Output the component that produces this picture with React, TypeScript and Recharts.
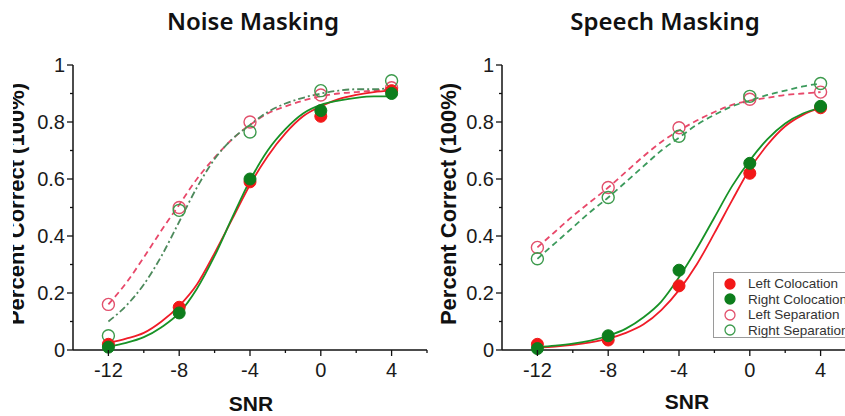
import React from 'react';
import { ComposedChart, Line, Scatter, XAxis, YAxis } from 'recharts';

// ---------- data ----------
const snrPoints = [-12, -8, -4, 0, 4];
const curveX = [-12, -11, -10, -9, -8, -7, -6, -5, -4, -3, -2, -1, 0, 1, 2, 3, 4];
const xTicks = [-12, -10, -8, -6, -4, -2, 0, 2, 4, 6];
const yTicks = [0, 0.1, 0.2, 0.3, 0.4, 0.5, 0.6, 0.7, 0.8, 0.9, 1];
const xLabelTicks = [-12, -8, -4, 0, 4];

const seriesNames = ['Left Colocation', 'Right Colocation', 'Left Separation', 'Right Separation'];

// Noise masking – measured points
const noiseLeftColoc = [0.02, 0.15, 0.59, 0.82, 0.91];
const noiseRightColoc = [0.01, 0.13, 0.6, 0.84, 0.9];
const noiseLeftSep = [0.16, 0.5, 0.8, 0.895, 0.92];
const noiseRightSep = [0.05, 0.49, 0.765, 0.91, 0.945];
// Noise masking – fitted curves
const noiseLeftColocFit = [0.025, 0.04, 0.06, 0.1, 0.155, 0.23, 0.34, 0.46, 0.58, 0.68, 0.76, 0.82, 0.855, 0.88, 0.895, 0.905, 0.91];
const noiseRightColocFit = [0.012, 0.025, 0.045, 0.08, 0.13, 0.215, 0.33, 0.465, 0.595, 0.7, 0.775, 0.83, 0.86, 0.875, 0.885, 0.89, 0.89];
const noiseLeftSepFit = [0.16, 0.235, 0.325, 0.42, 0.51, 0.6, 0.675, 0.74, 0.79, 0.83, 0.855, 0.875, 0.89, 0.9, 0.905, 0.91, 0.915];
const noiseRightSepFit = [0.1, 0.155, 0.23, 0.33, 0.45, 0.57, 0.67, 0.74, 0.79, 0.835, 0.865, 0.885, 0.9, 0.91, 0.915, 0.915, 0.92];

// Speech masking – measured points
const speechLeftColoc = [0.02, 0.035, 0.225, 0.62, 0.85];
const speechRightColoc = [0.005, 0.05, 0.28, 0.655, 0.855];
const speechLeftSep = [0.36, 0.57, 0.78, 0.88, 0.905];
const speechRightSep = [0.32, 0.535, 0.75, 0.89, 0.935];
// Speech masking – fitted curves
const speechLeftColocFit = [0.008, 0.012, 0.018, 0.027, 0.04, 0.06, 0.09, 0.14, 0.21, 0.3, 0.41, 0.525, 0.635, 0.72, 0.785, 0.825, 0.85];
const speechRightColocFit = [0.01, 0.015, 0.022, 0.033, 0.05, 0.075, 0.115, 0.17, 0.255, 0.355, 0.465, 0.575, 0.665, 0.74, 0.795, 0.83, 0.85];
const speechLeftSepFit = [0.36, 0.415, 0.47, 0.52, 0.57, 0.625, 0.68, 0.73, 0.77, 0.805, 0.835, 0.86, 0.875, 0.885, 0.895, 0.9, 0.905];
const speechRightSepFit = [0.32, 0.375, 0.43, 0.485, 0.535, 0.59, 0.645, 0.7, 0.745, 0.79, 0.825, 0.855, 0.875, 0.895, 0.91, 0.925, 0.935];

// ---------- styles ----------
const RED = '#f21818';
const GREEN = '#0d7d1c';
const RED_OPEN = '#e2506c';
const GREEN_OPEN = '#3c9a4c';
const FONT = '"Liberation Sans", Arial, sans-serif';
const TITLE_FONT = '"Noto Sans", "Open Sans", sans-serif';

const toPts = (xs: number[], ys: number[]) => xs.map((x, i) => ({ x, y: ys[i] }));

const filledDot = (color: string) => (p: any) => (
  <circle cx={p.cx} cy={p.cy} r={6} fill={color} stroke={color} strokeWidth={1} />
);
const openDot = (color: string) => (p: any) => (
  <circle cx={p.cx} cy={p.cy} r={6} fill="none" stroke={color} strokeWidth={1.4} />
);

const XTick = (props: any) => {
  const { x, y, payload } = props;
  const v = payload.value;
  const major = xLabelTicks.includes(v);
  return (
    <g>
      <line x1={x} y1={y} x2={x} y2={y + (major ? 6 : 3)} stroke="#111" strokeWidth={1.3} />
      {major && (
        <text x={x} y={y + 27} textAnchor="middle" fontSize={20} fill="#1a1a1a" fontFamily={FONT}>
          {v}
        </text>
      )}
    </g>
  );
};

const YTick = (props: any) => {
  const { x, y, payload } = props;
  const v = payload.value;
  const major = Math.round(v * 10) % 2 === 0;
  return (
    <g>
      <line x1={x} y1={y} x2={x - (major ? 6 : 3)} y2={y} stroke="#111" strokeWidth={1.3} />
      {major && (
        <text x={x - 8} y={y + 7} textAnchor="end" fontSize={20} fill="#1a1a1a" fontFamily={FONT}>
          {String(v)}
        </text>
      )}
    </g>
  );
};

type PanelProps = {
  width: number;
  yAxisWidth: number;
  marginRight: number;
  lc: number[]; rc: number[]; ls: number[]; rs: number[];
  lcFit: number[]; rcFit: number[]; lsFit: number[]; rsFit: number[];
  rightSepDash: string;
  rightSepColor: string;
};

const Panel = (p: PanelProps) => (
  <ComposedChart
    width={p.width}
    height={416}
    margin={{ top: 65, right: p.marginRight, bottom: 36, left: 0 }}
  >
    <XAxis
      type="number"
      dataKey="x"
      domain={[-14, 6]}
      ticks={xTicks}
      allowDataOverflow
      height={30}
      tickSize={0}
      tickMargin={0}
      tickLine={false}
      tick={<XTick />}
      axisLine={{ stroke: '#111', strokeWidth: 1.5 }}
      interval={0}
    />
    <YAxis
      type="number"
      dataKey="y"
      domain={[0, 1]}
      ticks={yTicks}
      width={p.yAxisWidth}
      tickSize={0}
      tickMargin={0}
      tickLine={false}
      tick={<YTick />}
      axisLine={{ stroke: '#111', strokeWidth: 1.5 }}
      interval={0}
    />
    <Line data={toPts(curveX, p.lsFit)} dataKey="y" type="monotone" stroke="#e8486a" strokeWidth={1.8} strokeDasharray="6 4" dot={false} isAnimationActive={false} />
    <Line data={toPts(curveX, p.rsFit)} dataKey="y" type="monotone" stroke={p.rightSepColor} strokeWidth={1.8} strokeDasharray={p.rightSepDash} dot={false} isAnimationActive={false} />
    <Line data={toPts(curveX, p.lcFit)} dataKey="y" type="monotone" stroke="#f01c28" strokeWidth={1.8} dot={false} isAnimationActive={false} />
    <Line data={toPts(curveX, p.rcFit)} dataKey="y" type="monotone" stroke="#179226" strokeWidth={1.8} dot={false} isAnimationActive={false} />
    <Scatter name={seriesNames[2]} data={toPts(snrPoints, p.ls)} dataKey="y" shape={openDot(RED_OPEN)} isAnimationActive={false} />
    <Scatter name={seriesNames[3]} data={toPts(snrPoints, p.rs)} dataKey="y" shape={openDot(GREEN_OPEN)} isAnimationActive={false} />
    <Scatter name={seriesNames[0]} data={toPts(snrPoints, p.lc)} dataKey="y" shape={filledDot(RED)} isAnimationActive={false} />
    <Scatter name={seriesNames[1]} data={toPts(snrPoints, p.rc)} dataKey="y" shape={filledDot(GREEN)} isAnimationActive={false} />
  </ComposedChart>
);

const abs = (s: React.CSSProperties): React.CSSProperties => ({ position: 'absolute', whiteSpace: 'nowrap', ...s });

const YLabel = ({ left, top }: { left: number; top: number }) => (
  <div
    style={abs({
      left, top, fontFamily: FONT, fontWeight: 'bold', fontSize: 22, lineHeight: '22px', color: '#111',
      transform: 'translate(-50%, -50%) rotate(-90deg)',
    })}
  >
    Percent Correct (100%)
  </div>
);

const legendMarkers = [
  { fill: RED, stroke: RED },
  { fill: GREEN, stroke: GREEN },
  { fill: 'none', stroke: RED_OPEN },
  { fill: 'none', stroke: GREEN_OPEN },
];

export default function App() {
  return (
    <div style={{ position: 'absolute', left: 0, top: 0, width: 845, height: 416, overflow: 'hidden', background: '#fff' }}>
      {/* Left panel */}
      <div style={abs({ left: 13, top: 0, width: 420, height: 416, overflow: 'hidden' })}>
        <Panel
          width={420}
          yAxisWidth={60}
          marginRight={6}
          lc={noiseLeftColoc} rc={noiseRightColoc} ls={noiseLeftSep} rs={noiseRightSep}
          lcFit={noiseLeftColocFit} rcFit={noiseRightColocFit} lsFit={noiseLeftSepFit} rsFit={noiseRightSepFit}
          rightSepDash="7 3 2 3"
          rightSepColor="#4d8a5c"
        />
        <YLabel left={17 - 13} top={204} />
      </div>
      <div style={abs({ left: 253, top: 7, transform: 'translateX(-50%)', fontFamily: TITLE_FONT, fontWeight: 600, fontSize: 24, lineHeight: '28px', color: '#111' })}>
        Noise Masking
      </div>
      <div style={abs({ left: 251, top: 393, transform: 'translateX(-50%)', fontFamily: FONT, fontWeight: 'bold', fontSize: 21, lineHeight: '21px', color: '#111' })}>
        SNR
      </div>

      {/* Right panel */}
      <div style={abs({ left: 433, top: 0, width: 440, height: 416 })}>
        <Panel
          width={440}
          yAxisWidth={69}
          marginRight={17}
          lc={speechLeftColoc} rc={speechRightColoc} ls={speechLeftSep} rs={speechRightSep}
          lcFit={speechLeftColocFit} rcFit={speechRightColocFit} lsFit={speechLeftSepFit} rsFit={speechRightSepFit}
          rightSepDash="6 4"
          rightSepColor="#3c9a5c"
        />
      </div>
      <YLabel left={449} top={204} />
      <div style={abs({ left: 665, top: 7, transform: 'translateX(-50%)', fontFamily: TITLE_FONT, fontWeight: 600, fontSize: 24, lineHeight: '28px', color: '#111' })}>
        Speech Masking
      </div>
      <div style={abs({ left: 687, top: 391, transform: 'translateX(-50%)', fontFamily: FONT, fontWeight: 'bold', fontSize: 21, lineHeight: '21px', color: '#111' })}>
        SNR
      </div>

      {/* Legend */}
      <div style={abs({ left: 713, top: 272, width: 150, height: 66, border: '1px solid #9a9a9a', background: '#fff', boxSizing: 'border-box', paddingTop: 3 })}>
        {seriesNames.map((n, i) => (
          <div key={n} style={{ display: 'flex', alignItems: 'center', height: 15.5 }}>
            <svg width={34} height={14} style={{ flex: 'none' }}>
              <circle cx={16} cy={7} r={5} fill={legendMarkers[i].fill} stroke={legendMarkers[i].stroke} strokeWidth={1.3} />
            </svg>
            <span style={{ fontFamily: FONT, fontSize: 13.5, color: '#333', lineHeight: '15px' }}>{n}</span>
          </div>
        ))}
      </div>
    </div>
  );
}
